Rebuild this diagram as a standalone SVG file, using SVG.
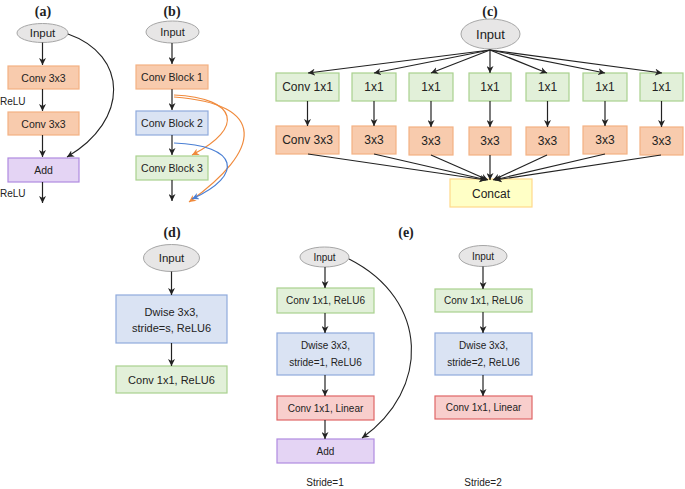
<svg xmlns="http://www.w3.org/2000/svg" width="685" height="489" viewBox="0 0 685 489">
<defs>
<marker id="ah" viewBox="0 0 10 10" refX="10" refY="5" markerWidth="7" markerHeight="7" orient="auto" markerUnits="userSpaceOnUse"><path d="M0,0 L10,5 L0,10 L3,5 z" fill="#222"/></marker>
<marker id="aho" viewBox="0 0 10 10" refX="10" refY="5" markerWidth="7" markerHeight="7" orient="auto" markerUnits="userSpaceOnUse"><path d="M0,0 L10,5 L0,10 L3,5 z" fill="#F08A3C"/></marker>
<marker id="ahb" viewBox="0 0 10 10" refX="10" refY="5" markerWidth="7" markerHeight="7" orient="auto" markerUnits="userSpaceOnUse"><path d="M0,0 L10,5 L0,10 L3,5 z" fill="#4A7FD4"/></marker>
<style>
text{font-family:"Liberation Sans","Open Sans",sans-serif;fill:#222;text-anchor:middle;dominant-baseline:central}
.t{font-family:"Liberation Serif",serif;font-weight:bold;font-size:14px}
.ell{fill:#E7E6E6;stroke:#A6A6A6;stroke-width:1}
.or{fill:#F8CBAD;stroke:#F4B183;stroke-width:1.2}
.gr{fill:#E2F0D9;stroke:#A9D18E;stroke-width:1.2}
.bl{fill:#DAE3F3;stroke:#8FAADC;stroke-width:1.2}
.pu{fill:#E4D4F4;stroke:#B08ADF;stroke-width:1.2}
.rd{fill:#F8CECC;stroke:#E06666;stroke-width:1.2}
.ye{fill:#FFFFC6;stroke:#FFD98A;stroke-width:1.2}
.ar{stroke:#222;stroke-width:1.2;fill:none;marker-end:url(#ah)}
.cv{stroke:#222;stroke-width:1.1;fill:none;marker-end:url(#ah)}
.co{stroke:#F08A3C;stroke-width:1.2;fill:none;marker-end:url(#aho)}
.cb{stroke:#4A7FD4;stroke-width:1.2;fill:none;marker-end:url(#ahb)}
</style>
</defs>

<g id="titles">
<text class="t" x="43" y="11">(a)</text>
<text class="t" x="172" y="11">(b)</text>
<text class="t" x="490" y="11">(c)</text>
<text class="t" x="172" y="232">(d)</text>
<text class="t" x="406" y="232">(e)</text>
</g>

<!-- Panel a -->
<g id="a-input"><ellipse class="ell" cx="42.5" cy="33" rx="25.5" ry="9.5"/><text x="42.5" y="33" font-size="11.5">Input</text></g>
<g id="a-conv1"><rect class="or" x="8" y="66" width="71" height="23"/><text x="43.5" y="77.5" font-size="10.5">Conv 3x3</text></g>
<g id="a-conv2"><rect class="or" x="8" y="112" width="71" height="23"/><text x="43.5" y="123.5" font-size="10.5">Conv 3x3</text></g>
<g id="a-add"><rect class="pu" x="8" y="158" width="71" height="24"/><text x="43.5" y="170" font-size="10.5">Add</text></g>
<g id="a-labels">
<text x="0" y="101" font-size="10" style="text-anchor:start">ReLU</text>
<text x="0" y="193" font-size="10" style="text-anchor:start">ReLU</text>
</g>

<!-- Panel b -->
<g id="b-input"><ellipse class="ell" cx="172.5" cy="32" rx="26.5" ry="11"/><text x="172.5" y="32" font-size="11">Input</text></g>
<g id="b-block1"><rect class="or" x="136" y="65" width="72" height="24"/><text x="172" y="77" font-size="10.5">Conv Block 1</text></g>
<g id="b-block2"><rect class="bl" x="136" y="111" width="72" height="24"/><text x="172" y="123" font-size="10.5">Conv Block 2</text></g>
<g id="b-block3"><rect class="gr" x="136" y="156" width="72" height="24"/><text x="172" y="168" font-size="10.5">Conv Block 3</text></g>

<!-- Panel c -->
<g id="c-input"><ellipse class="ell" cx="490.5" cy="34" rx="29.5" ry="15"/><text x="490.5" y="34" font-size="13">Input</text></g>
<g id="c-top1"><rect class="gr" x="276" y="73" width="63" height="28"/><text x="307.5" y="87" font-size="12">Conv 1x1</text></g>
<g id="c-top2"><rect class="gr" x="352" y="73" width="44" height="28"/><text x="374" y="87" font-size="12">1x1</text></g>
<g id="c-top3"><rect class="gr" x="409" y="73" width="44" height="28"/><text x="431" y="87" font-size="12">1x1</text></g>
<g id="c-top4"><rect class="gr" x="469" y="73" width="42" height="28"/><text x="490" y="87" font-size="12">1x1</text></g>
<g id="c-top5"><rect class="gr" x="526" y="73" width="43" height="28"/><text x="547.5" y="87" font-size="12">1x1</text></g>
<g id="c-top6"><rect class="gr" x="583" y="73" width="44" height="28"/><text x="605" y="87" font-size="12">1x1</text></g>
<g id="c-top7"><rect class="gr" x="640" y="73" width="43" height="28"/><text x="661.5" y="87" font-size="12">1x1</text></g>
<g id="c-bot1"><rect class="or" x="276" y="126" width="63" height="28"/><text x="307.5" y="140" font-size="12">Conv 3x3</text></g>
<g id="c-bot2"><rect class="or" x="352" y="126" width="44" height="28"/><text x="374" y="140" font-size="12">3x3</text></g>
<g id="c-bot3"><rect class="or" x="409" y="127" width="44" height="28"/><text x="431" y="141" font-size="12">3x3</text></g>
<g id="c-bot4"><rect class="or" x="469" y="127" width="42" height="28"/><text x="490" y="141" font-size="12">3x3</text></g>
<g id="c-bot5"><rect class="or" x="526" y="127" width="43" height="28"/><text x="547.5" y="141" font-size="12">3x3</text></g>
<g id="c-bot6"><rect class="or" x="583" y="126" width="44" height="28"/><text x="605" y="140" font-size="12">3x3</text></g>
<g id="c-bot7"><rect class="or" x="640" y="127" width="43" height="28"/><text x="661.5" y="141" font-size="12">3x3</text></g>
<g id="c-concat"><rect class="ye" x="450" y="179" width="82" height="28"/><text x="491" y="193.5" font-size="12">Concat</text></g>

<!-- Panel d -->
<g id="d-input"><ellipse class="ell" cx="171.5" cy="258" rx="28" ry="13.5"/><text x="171.5" y="258" font-size="11.5">Input</text></g>
<g id="d-dwise"><rect class="bl" x="116" y="295" width="111" height="48"/><text x="171.5" y="311.5" font-size="11">Dwise 3x3,</text><text x="171.5" y="328" font-size="11">stride=s, ReLU6</text></g>
<g id="d-conv"><rect class="gr" x="116" y="366" width="111" height="27"/><text x="171.5" y="379.5" font-size="11">Conv 1x1, ReLU6</text></g>

<!-- Panel e left -->
<g id="e1-input"><ellipse class="ell" cx="324.5" cy="257" rx="24.5" ry="10"/><text x="324.5" y="257" font-size="10">Input</text></g>
<g id="e1-conv"><rect class="gr" x="277" y="288" width="97" height="25"/><text x="325.5" y="300.5" font-size="10">Conv 1x1, ReLU6</text></g>
<g id="e1-dwise"><rect class="bl" x="277" y="333" width="97" height="42"/><text x="325.5" y="345.5" font-size="10">Dwise 3x3,</text><text x="325.5" y="362" font-size="10">stride=1, ReLU6</text></g>
<g id="e1-linear"><rect class="rd" x="277" y="396" width="97" height="24"/><text x="325.5" y="408" font-size="10">Conv 1x1, Linear</text></g>
<g id="e1-add"><rect class="pu" x="277" y="439" width="97" height="24"/><text x="325.5" y="451" font-size="10">Add</text></g>
<text x="325" y="482.5" font-size="10">Stride=1</text>

<!-- Panel e right -->
<g id="e2-input"><ellipse class="ell" cx="483" cy="256" rx="24" ry="10.5"/><text x="483" y="256" font-size="10">Input</text></g>
<g id="e2-conv"><rect class="gr" x="435" y="289" width="97" height="23"/><text x="483.5" y="300.5" font-size="10">Conv 1x1, ReLU6</text></g>
<g id="e2-dwise"><rect class="bl" x="435" y="333" width="97" height="42"/><text x="483.5" y="345.5" font-size="10">Dwise 3x3,</text><text x="483.5" y="362" font-size="10">stride=2, ReLU6</text></g>
<g id="e2-linear"><rect class="rd" x="435" y="396" width="97" height="23"/><text x="483.5" y="407.5" font-size="10">Conv 1x1, Linear</text></g>
<text x="483" y="482.5" font-size="10">Stride=2</text>

<g id="connectors">
<!-- a -->
<path class="ar" d="M42.5,42.5 V65"/>
<path class="ar" d="M42.5,89 V111"/>
<path class="ar" d="M42.5,135 V157"/>
<path class="ar" d="M42.5,182 V203"/>
<path class="cv" d="M68,34 C128,55 130,120 67,157"/>
<!-- b -->
<path class="ar" d="M172,43 V64"/>
<path class="ar" d="M172,89 V110"/>
<path class="ar" d="M172,135 V155"/>
<path class="ar" d="M172,180 V201"/>
<path class="co" d="M174,95 C238,98 245,128 192,155"/>
<path class="co" d="M174,97 C268,104 262,150 189,202"/>
<path class="cb" d="M174,143 C238,145 245,175 192,199"/>
<!-- c -->
<path class="ar" d="M490,50 L308,73"/>
<path class="ar" d="M490,50 L374,73"/>
<path class="ar" d="M490,50 L431,73"/>
<path class="ar" d="M490,50 L490,73"/>
<path class="ar" d="M490,50 L547,73"/>
<path class="ar" d="M490,50 L605,73"/>
<path class="ar" d="M490,50 L662,73"/>
<path class="ar" d="M307.5,101 V126"/>
<path class="ar" d="M374,101 V126"/>
<path class="ar" d="M431,101 V127"/>
<path class="ar" d="M490,101 V127"/>
<path class="ar" d="M547.5,101 V127"/>
<path class="ar" d="M605,101 V126"/>
<path class="ar" d="M661.5,101 V127"/>
<path class="ar" d="M308,154 L486,180"/>
<path class="ar" d="M374,154 L487,180"/>
<path class="ar" d="M431,155 L488,180"/>
<path class="ar" d="M490,155 L490,180"/>
<path class="ar" d="M547,155 L493,180"/>
<path class="ar" d="M605,154 L494,180"/>
<path class="ar" d="M661,155 L495,180"/>
<!-- d -->
<path class="ar" d="M171.5,271.5 V295"/>
<path class="ar" d="M171.5,343 V366"/>
<!-- e left -->
<path class="ar" d="M325,267 V288"/>
<path class="ar" d="M325,313 V333"/>
<path class="ar" d="M325,375 V396"/>
<path class="ar" d="M325,420 V439"/>
<path class="cv" d="M349,259 C430,300 430,390 362,438"/>
<!-- e right -->
<path class="ar" d="M483,266.5 V289"/>
<path class="ar" d="M483,312 V333"/>
<path class="ar" d="M483,375 V396"/>
</g>
</svg>
